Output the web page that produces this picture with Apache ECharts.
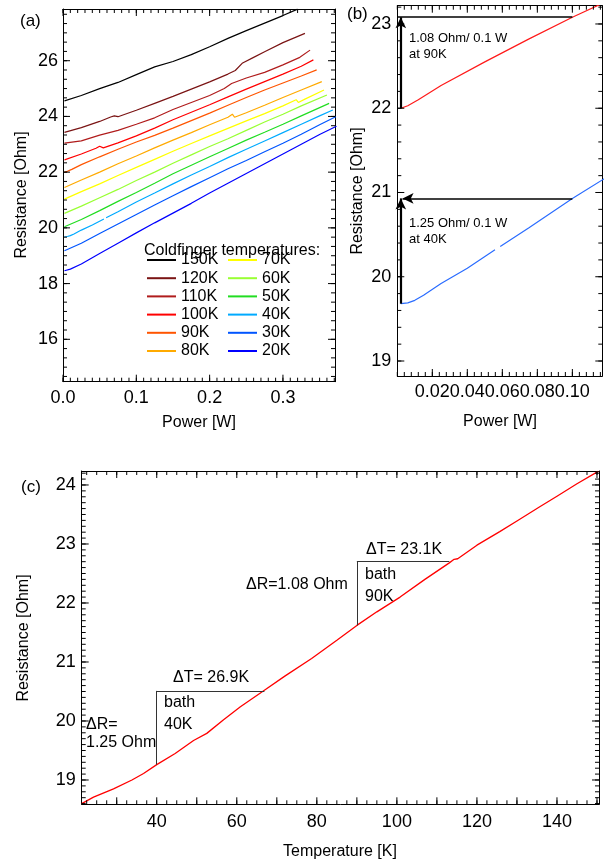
<!DOCTYPE html>
<html><head><meta charset="utf-8">
<script src="https://cdn.jsdelivr.net/npm/echarts@6/dist/echarts.min.js"></script>
<style>html,body{margin:0;padding:0;background:#fff}#c{width:611px;height:863px}</style>
</head><body><div id="c"></div>
<script>
// ---------------- DATA ----------------
const temps = ['150K','120K','110K','100K','90K','80K','70K','60K','50K','40K','30K','20K'];
const tempColors = ['#000000','#7a1414','#b01c1c','#ff0000','#ff5500','#ffaa00','#ffff00','#99ff33','#22dd22','#00aaff','#0055ff','#0000ff'];

const power150 = [0.002,0.025,0.05,0.075,0.1,0.125,0.15,0.175,0.2,0.225,0.25,0.275,0.3,0.32];
const res150   = [24.56,24.75,25.0,25.22,25.5,25.78,25.97,26.22,26.5,26.8,27.08,27.35,27.62,27.85];
const power120 = [0.002,0.025,0.05,0.065,0.07,0.075,0.1,0.125,0.15,0.175,0.2,0.225,0.235,0.245,0.26,0.275,0.3,0.33];
const res120   = [23.43,23.6,23.82,23.98,24.02,23.99,24.22,24.47,24.72,24.98,25.24,25.52,25.65,25.92,26.12,26.32,26.65,26.98];
const power110 = [0.002,0.025,0.05,0.075,0.1,0.125,0.15,0.175,0.2,0.22,0.23,0.25,0.275,0.3,0.323,0.337];
const res110   = [23.04,23.12,23.33,23.5,23.72,23.95,24.25,24.5,24.75,25.0,25.18,25.38,25.58,25.85,26.12,26.38];
const power100 = [0.002,0.025,0.045,0.05,0.055,0.075,0.1,0.125,0.15,0.175,0.2,0.225,0.25,0.275,0.3,0.325,0.3415];
const res100   = [22.44,22.65,22.86,22.93,22.87,23.05,23.3,23.58,23.88,24.15,24.42,24.7,24.98,25.25,25.52,25.8,26.03];
const power90  = [0.002,0.006,0.012,0.025,0.05,0.075,0.1,0.125,0.15,0.175,0.2,0.225,0.25,0.275,0.3,0.325,0.346];
const res90    = [22.0,22.03,22.1,22.27,22.55,22.82,23.08,23.32,23.58,23.85,24.12,24.4,24.68,24.95,25.2,25.45,25.67];
const power80  = [0.002,0.025,0.05,0.075,0.1,0.125,0.15,0.175,0.2,0.225,0.231,0.234,0.25,0.275,0.3,0.325,0.353];
const res80    = [21.45,21.72,22.0,22.3,22.58,22.87,23.15,23.42,23.7,23.97,24.08,23.97,24.13,24.4,24.68,24.95,25.25];
const power70  = [0.002,0.025,0.05,0.075,0.1,0.125,0.15,0.175,0.2,0.225,0.25,0.275,0.3,0.318,0.321,0.33,0.356];
const res70    = [21.03,21.3,21.58,21.88,22.17,22.46,22.75,23.03,23.3,23.57,23.84,24.1,24.38,24.6,24.5,24.62,24.95];
const power60  = [0.002,0.025,0.05,0.075,0.1,0.125,0.15,0.175,0.2,0.225,0.25,0.275,0.3,0.325,0.36];
const res60    = [20.52,20.78,21.08,21.38,21.7,22.0,22.32,22.62,22.92,23.2,23.5,23.8,24.08,24.38,24.77];
const power50  = [0.002,0.025,0.05,0.075,0.1,0.125,0.15,0.175,0.2,0.225,0.25,0.275,0.3,0.325,0.363];
const res50    = [20.04,20.3,20.62,20.95,21.27,21.6,21.94,22.25,22.55,22.85,23.15,23.43,23.72,24.02,24.47];
const power40  = [0.002,0.006,0.01,0.015,0.025,0.04,0.0558,0.057,0.0588,0.075,0.1,0.125,0.15,0.175,0.2,0.225,0.25,0.275,0.3,0.325,0.35,0.368];
const res40    = [19.68,19.69,19.72,19.78,19.92,20.1,20.32,null,20.36,20.58,20.93,21.25,21.58,21.9,22.2,22.52,22.82,23.12,23.42,23.72,24.02,24.23];
const power30  = [0.002,0.025,0.05,0.075,0.1,0.125,0.15,0.175,0.2,0.225,0.25,0.275,0.3,0.325,0.35,0.372];
const res30    = [19.18,19.45,19.8,20.14,20.48,20.82,21.15,21.48,21.8,22.12,22.42,22.73,23.04,23.36,23.7,23.99];
const power20  = [0.002,0.01,0.025,0.05,0.075,0.1,0.125,0.15,0.175,0.2,0.225,0.25,0.275,0.3,0.325,0.35,0.373];
const res20    = [18.46,18.52,18.7,19.08,19.45,19.82,20.18,20.53,20.88,21.25,21.6,21.95,22.3,22.65,23.0,23.35,23.65];

// panel (c): resistance vs temperature
const tempC = [21.25,24.2,29.2,33.8,36.7,40,44.6,49.2,52.5,56.7,60.9,66.9,72,78.7,85,90,95,100.8,107,113.1,114.3,115.2,120,125.7,130,135.7,140,145,150.3];
const resC  = [18.6,18.71,18.85,19.0,19.11,19.26,19.45,19.67,19.79,20.02,20.24,20.52,20.76,21.06,21.37,21.62,21.85,22.1,22.4,22.68,22.74,22.75,22.98,23.21,23.39,23.63,23.81,24.02,24.23];

// annotation values
const startPower = 0.002, refPower = 0.1;
const r0_90 = 22.0, dR_90 = 1.08;   // panel (b)
const r0_40 = 19.68, dR_40 = 1.25;
const bath40 = 40, rBath40 = 19.26, dT40 = 26.9, dRc40 = 1.25;  // panel (c)
const bath90 = 90, rBath90 = 21.62, dT90 = 23.1, dRc90 = 1.08;

// tick labels / tick values
const aYLabels = [16,18,20,22,24,26];
const aXLabels = [0,0.1,0.2,0.3];
const bYLabels = [19,20,21,22,23];
const bXLabels = [0.02,0.04,0.06,0.08,0.10];
const cYLabels = [19,20,21,22,23,24];
const cXLabels = [40,60,80,100,120,140];
const cXMajor  = [30,40,50,60,70,80,90,100,110,120,130,140,150];

// ---------------- CHART ----------------
const FONT = '"Liberation Sans", Arial, Helvetica, sans-serif';
const powers = [power150,power120,power110,power100,power90,power80,power70,power60,power50,power40,power30,power20];
const ress   = [res150,res120,res110,res100,res90,res80,res70,res60,res50,res40,res30,res20];
const pairs = (xs, ys) => xs.map((x, i) => [x, ys[i]]);
function steps(a, b, s) { const out = []; const n = Math.round((b - a) / s); for (let k = 0; k <= n; k++) out.push(+(a + k * s).toFixed(6)); return out; }

const panels = [
  {xMin:0, xMax:0.371, xLabels:aXLabels, xMajor:aXLabels, xMinor:steps(0, 0.37, 0.01), xFmt:v => v.toFixed(1), xMargin:7,
   yMin:14.478, yMax:27.856, yLabels:aYLabels, yMajor:aYLabels, yMinor:steps(14 + 2/3, 27 + 2/3, 1/3), yFmt:v => v.toFixed(0), yMargin:5},
  {xMin:0, xMax:0.1171, xLabels:bXLabels, xMajor:bXLabels, xMinor:steps(0, 0.116, 0.004), xFmt:v => v.toFixed(2), xMargin:7,
   yMin:18.822, yMax:23.217, yLabels:bYLabels, yMajor:bYLabels, yMinor:steps(18.8, 23.2, 0.2), yFmt:v => v.toFixed(0), yMargin:6},
  {xMin:21.25, xMax:150.5, xLabels:cXLabels, xMajor:cXMajor, xMinor:steps(22.5, 150, 2.5), xFmt:v => v.toFixed(0), xMargin:9,
   yMin:18.588, yMax:24.237, yLabels:cYLabels, yMajor:cYLabels, yMinor:steps(18.6, 24.2, 0.1), yFmt:v => v.toFixed(0), yMargin:6}
];

const xAxes = [], yAxes = [];
panels.forEach((c, g) => {
  const common = {gridIndex:g, type:'value', splitLine:{show:false}, axisPointer:{show:false},
    axisLine:{show:true, onZero:false, lineStyle:{color:'#000', width:1}},
    axisTick:{show:false}, minorTick:{show:false}};
  xAxes.push({...common, min:c.xMin, max:c.xMax, position:'bottom',
    axisLabel:{show:true, customValues:c.xLabels, formatter:c.xFmt, fontSize:18, color:'#000', fontFamily:FONT, margin:c.xMargin}});
  xAxes.push({...common, min:c.xMin, max:c.xMax, position:'top', axisLabel:{show:false}});
  yAxes.push({...common, min:c.yMin, max:c.yMax, position:'left',
    axisLabel:{show:true, customValues:c.yLabels, formatter:c.yFmt, fontSize:18, color:'#000', fontFamily:FONT, margin:c.yMargin}});
  yAxes.push({...common, min:c.yMin, max:c.yMax, position:'right', axisLabel:{show:false}});
});

const series = temps.map((t, i) => ({
  name:t, type:'line', xAxisIndex:0, yAxisIndex:0, data:pairs(powers[i], ress[i]),
  symbol:'none', connectNulls:false, lineStyle:{color:tempColors[i], width:1.2}, itemStyle:{color:tempColors[i]}
}));

// tick marks on all four sides, placed through the axes' own scales
panels.forEach((c, g) => {
  const items = [];
  c.xMajor.forEach(v => items.push([v, c.yMin, 1, 0]));
  c.xMinor.forEach(v => items.push([v, c.yMin, 0, 0]));
  c.yMajor.forEach(v => items.push([c.xMin, v, 1, 1]));
  c.yMinor.forEach(v => items.push([c.xMin, v, 0, 1]));
  series.push({
    type:'custom', xAxisIndex:2 * g, yAxisIndex:2 * g, silent:true, clip:false, z:4,
    encode:{x:0, y:1}, data:items,
    renderItem:(params, api) => {
      const cs = params.coordSys;
      const p = api.coord([api.value(0), api.value(1)]);
      const len = api.value(2) ? 7 : 4;
      const st = {stroke:'#000', lineWidth:1};
      if (api.value(3) === 0) {
        if (p[0] < cs.x - 0.5 || p[0] > cs.x + cs.width + 0.5) return null;
        const yb = cs.y + cs.height, yt = cs.y;
        return {type:'group', children:[
          {type:'line', shape:{x1:p[0], y1:yb, x2:p[0], y2:yb - len}, style:st},
          {type:'line', shape:{x1:p[0], y1:yt, x2:p[0], y2:yt + len}, style:st}
        ]};
      }
      if (p[1] < cs.y - 0.5 || p[1] > cs.y + cs.height + 0.5) return null;
      const xl = cs.x, xr = cs.x + cs.width;
      return {type:'group', children:[
        {type:'line', shape:{x1:xl, y1:p[1], x2:xl + len, y2:p[1]}, style:st},
        {type:'line', shape:{x1:xr, y1:p[1], x2:xr - len, y2:p[1]}, style:st}
      ]};
    }
  });
});

const arrowEnd = {symbol:'arrow', symbolSize:[8, 11]};
series.push({
  name:'b90', type:'line', xAxisIndex:2, yAxisIndex:2, data:pairs(power90, res90), symbol:'none',
  lineStyle:{color:'#ff1a1a', width:1.2}, clip:true,
  markLine:{silent:true, animation:false, symbol:['none','none'], label:{show:false},
    lineStyle:{color:'#000', width:1.5, type:'solid'},
    data:[
      [{coord:[startPower, r0_90], lineStyle:{width:2.2}}, {coord:[startPower, r0_90 + dR_90], ...arrowEnd}],
      [{coord:[0, r0_90 + dR_90]}, {coord:[refPower, r0_90 + dR_90]}]
    ]}
});
series.push({
  name:'b40', type:'line', xAxisIndex:2, yAxisIndex:2, data:pairs(power40, res40), symbol:'none', connectNulls:false,
  lineStyle:{color:'#2a6cff', width:1.2}, clip:true,
  markLine:{silent:true, animation:false, symbol:['none','none'], label:{show:false},
    lineStyle:{color:'#000', width:1.5, type:'solid'},
    data:[
      [{coord:[startPower, r0_40], lineStyle:{width:2.2}}, {coord:[startPower, r0_40 + dR_40], ...arrowEnd}],
      [{coord:[refPower, r0_40 + dR_40]}, {coord:[0.003, r0_40 + dR_40], ...arrowEnd}]
    ]}
});
series.push({
  name:'c', type:'line', xAxisIndex:4, yAxisIndex:4, data:pairs(tempC, resC), symbol:'none',
  lineStyle:{color:'#ff0000', width:1.3},
  markLine:{silent:true, animation:false, symbol:['none','none'], label:{show:false},
    lineStyle:{color:'#333', width:1, type:'solid'},
    data:[
      [{coord:[bath40, rBath40]}, {coord:[bath40, rBath40 + dRc40]}],
      [{coord:[bath40, rBath40 + dRc40]}, {coord:[bath40 + dT40, rBath40 + dRc40]}],
      [{coord:[bath90, rBath90]}, {coord:[bath90, rBath90 + dRc90]}],
      [{coord:[bath90, rBath90 + dRc90]}, {coord:[bath90 + dT90, rBath90 + dRc90]}]
    ]}
});

function txt(text, x, y, size, opts) {
  opts = opts || {};
  return {type:'text', x:x, y:y, rotation:opts.rot || 0, silent:true, z:100,
    style:{text:text, font:size + 'px ' + FONT, fill:'#000', align:opts.align || 'left', verticalAlign:'middle'}};
}
const graphic = [
  txt('(a)', 20, 21, 17), txt('(b)', 347, 14, 17), txt('(c)', 21, 487, 17),
  txt('Resistance [Ohm]', 22, 195, 16, {rot:Math.PI/2, align:'center'}),
  txt('Resistance [Ohm]', 358, 191, 16, {rot:Math.PI/2, align:'center'}),
  txt('Resistance [Ohm]', 24, 638, 16, {rot:Math.PI/2, align:'center'}),
  txt('Power [W]', 199, 423, 16, {align:'center'}),
  txt('Power [W]', 500, 422, 16, {align:'center'}),
  txt('Temperature [K]', 340, 852, 16, {align:'center'}),
  txt('Coldfinger temperatures:', 144, 251, 16),
  txt(dR_90.toFixed(2) + ' Ohm/ ' + refPower + ' W', 409, 38, 13), txt('at 90K', 409, 54, 13),
  txt(dR_40.toFixed(2) + ' Ohm/ ' + refPower + ' W', 409, 223, 13), txt('at 40K', 409, 239, 13),
  txt('\u0394T= ' + dT40 + 'K', 173, 678, 16), txt('bath', 164, 703, 16), txt(bath40 + 'K', 164, 725, 16),
  txt('\u0394R=', 86, 725, 16), txt(dRc40.toFixed(2) + ' Ohm', 86, 743, 16),
  txt('\u0394T= ' + dT90 + 'K', 366, 550, 16), txt('bath', 365, 575, 16), txt(bath90 + 'K', 365, 597, 16),
  txt('\u0394R=' + dRc90.toFixed(2) + ' Ohm', 246, 585, 16)
];

const legendBase = {orient:'vertical', itemWidth:29, itemHeight:14, itemGap:2.2, selectedMode:false,
  itemStyle:{opacity:0}, textStyle:{fontSize:16, color:'#000', fontFamily:FONT}, height:118, padding:0};

const chart = echarts.init(document.getElementById('c'), null, {renderer:'canvas'});
chart.setOption({
  animation:false,
  backgroundColor:'#fff',
  textStyle:{fontFamily:FONT},
  grid:[
    {left:63, top:9, width:272, height:372.7, outerBoundsMode:'none'},
    {left:397.3, top:5.7, width:205, height:370.3, outerBoundsMode:'none'},
    {left:81.7, top:471, width:517.3, height:333.3, outerBoundsMode:'none'}
  ],
  xAxis:xAxes, yAxis:yAxes,
  legend:[
    {...legendBase, left:146, top:252, data:temps.slice(0, 6)},
    {...legendBase, left:227, top:252, data:temps.slice(6)}
  ],
  series:series,
  graphic:graphic
});
</script></body></html>
